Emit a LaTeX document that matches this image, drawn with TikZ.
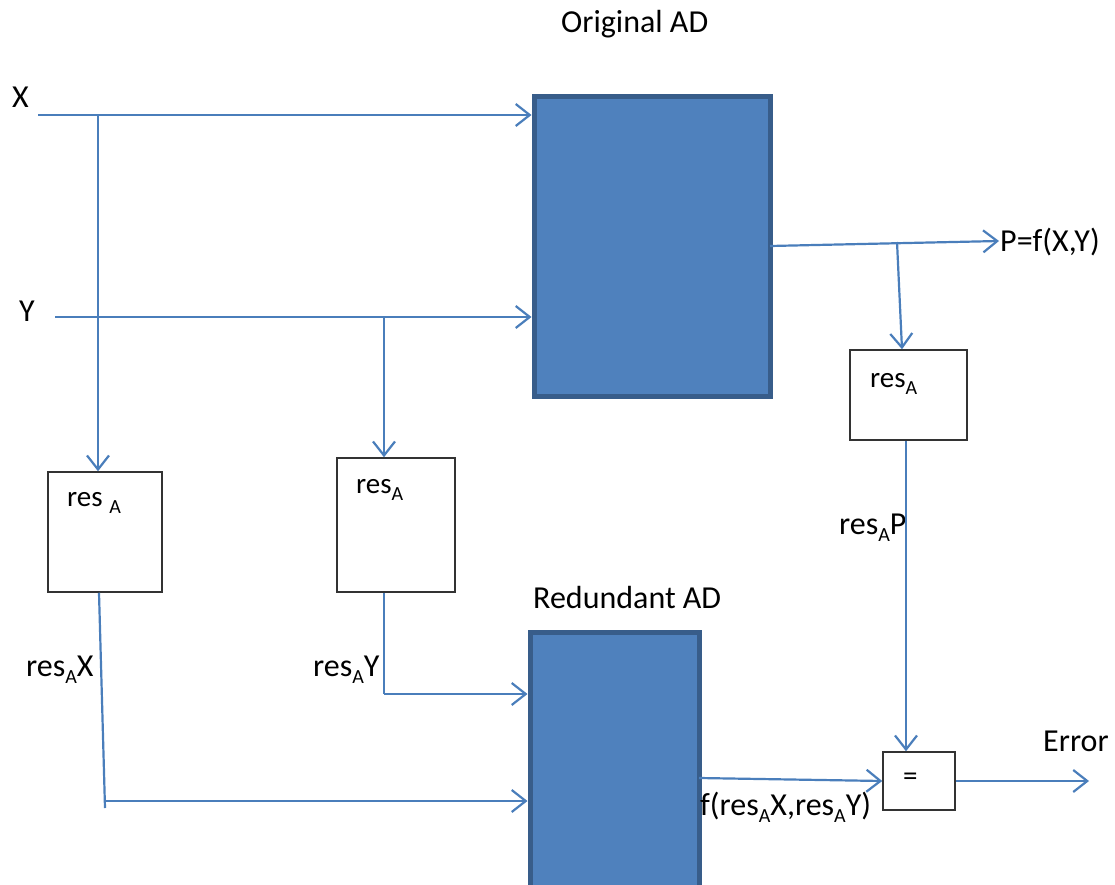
\documentclass[tikz,border=0pt]{standalone}
\usepackage{fontspec}
\setmainfont{Carlito}
\usetikzlibrary{arrows.meta}
\definecolor{ln}{HTML}{4A7EBB}
\definecolor{fillb}{HTML}{4F81BD}
\definecolor{brd}{HTML}{385D8A}
\newcommand\subA{\raisebox{-0.22em}{\fontsize{20}{24}\selectfont A}}
\begin{document}
\begin{tikzpicture}[x=1pt,y=-1pt,
 conn/.style={draw=ln,line width=2.2pt,-{Straight Barb[length=14pt,width=22pt,line width=2.2pt]}},
 wire/.style={draw=ln,line width=2.2pt},
 adbox/.style={fill=fillb,draw=brd,line width=5pt,inner sep=0pt},
 smallbox/.style={draw=black!80,line width=1.5pt,fill=white,inner sep=0pt},
 lbl/.style={inner sep=0pt,font=\fontsize{32}{38}\selectfont,anchor=west},
 blbl/.style={inner sep=0pt,font=\fontsize{29}{34}\selectfont,anchor=west}]
\useasboundingbox (0,0) rectangle (1115,885);
% blocks
\node[adbox,minimum width=236pt,minimum height=299pt] (orig) at (652,246.5) {};
\node[adbox,minimum width=169pt,minimum height=262pt] (red) at (614.5,763) {};
\node[smallbox,minimum width=114pt,minimum height=120pt] (rx) at (105,532) {};
\node[smallbox,minimum width=118pt,minimum height=134pt] (ry) at (396,525) {};
\node[smallbox,minimum width=117pt,minimum height=90pt] (rp) at (908.5,395) {};
\node[smallbox,minimum width=72pt,minimum height=58pt] (eq) at (919,781) {};
% texts
\node[lbl] (tOrig) at (561,24) {Original AD};
\node[lbl] (tRed) at (533,598) {Redundant AD};
\node[lbl] (tX) at (12,97) {X};
\node[lbl] (tY) at (19,311) {Y};
\node[lbl] (tP) at (1000,242) {P=f(X,Y)};
\node[blbl] (trx) at (67,503) {res \subA};
\node[blbl] (try) at (356,490) {res\subA};
\node[blbl] (trp) at (870,384) {res\subA};
\node[lbl] (tresX) at (26,670) {res\subA X};
\node[lbl] (tresY) at (313,670) {res\subA Y};
\node[lbl] (tresP) at (839,528) {res\subA P};
\node[lbl] (tf) at (700,807) {f(res\subA X,res\subA Y)};
\node[blbl] (teq) at (903,779) {=};
\node[lbl] (tErr) at (1043,741) {Error};
% coordinates
\coordinate (xs) at (38,115);
\coordinate (xb) at (98,115);
\coordinate (ys) at (55,317);
\coordinate (yb) at (384,317);
\coordinate (rxb) at (105,808);
\coordinate (rxh) at (105,801);
\coordinate (ryc) at (384,694);
\coordinate (po) at (770,246);
\coordinate (pe) at (999,241);
\coordinate (pb) at (897,242);
\coordinate (fo) at (699,778);
\coordinate (ee) at (1089,781);
% connectors
\draw[conn] (xs) -- (xs -| orig.west);
\draw[conn] (xb) -- (xb |- rx.north);
\draw[conn] (ys) -- (ys -| orig.west);
\draw[conn] (yb) -- (ry.north -| yb);
\draw[conn] (po) -- (pe);
\draw[conn] (pb) -- (rp.north -| 902,0);
\draw[conn] (rp.south -| 906,0) -- (eq.north -| 906,0);
\draw[wire] (rx.south -| 99,0) -- (rxb);
\draw[conn] (rxh) -- (rxh -| red.west);
\draw[wire] (ry.south -| ryc) -- (ryc);
\draw[conn] (ryc) -- (ryc -| red.west);
\draw[conn] (fo) -- (eq.west);
\draw[conn] (eq.east) -- (ee);
\end{tikzpicture}
\end{document}
